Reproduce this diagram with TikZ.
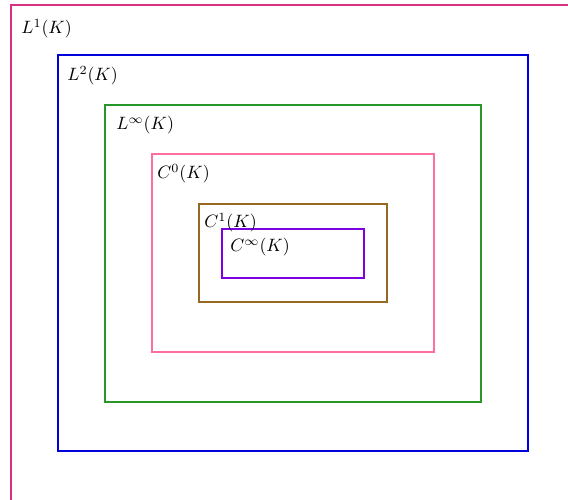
\documentclass[tikz,border=0pt]{standalone}
\begin{document}
\begin{tikzpicture}[x=0.56pt,y=-0.56pt,
  setbox/.style={draw,line width=0.6pt},
  setlabel/.style={anchor=north west,inner sep=0pt}]
\definecolor{cL1}{RGB}{215,50,130}
\definecolor{cL2}{RGB}{0,0,220}
\definecolor{cLi}{RGB}{40,150,40}
\definecolor{cC0}{RGB}{255,110,160}
\definecolor{cC1}{RGB}{150,105,35}
\definecolor{cCi}{RGB}{125,0,225}
\useasboundingbox (0,0) rectangle (568,500);
\clip (0,0) rectangle (568,500);
\draw[setbox,cL1] (11,5) rectangle (640,560);
\draw[setbox,cL2] (58,55) rectangle (528,451);
\draw[setbox,cLi] (105,105) rectangle (481,402);
\draw[setbox,cC0] (152,154) rectangle (434,352);
\draw[setbox,cC1] (199,204) rectangle (387,302);
\draw[setbox,cCi] (222,229) rectangle (364,278);
\node[setlabel] (l1) at (21,19) {$L^1(K)$};
\node[setlabel] (l2) at (67,66) {$L^2(K)$};
\node[setlabel] (li) at (116,116) {$L^\infty(K)$};
\node[setlabel] (c0) at (157,164) {$C^0(K)$};
\node[setlabel] (c1) at (204,213) {$C^1(K)$};
\node[setlabel] (ci) at (230,238) {$C^\infty(K)$};
\end{tikzpicture}
\end{document}
